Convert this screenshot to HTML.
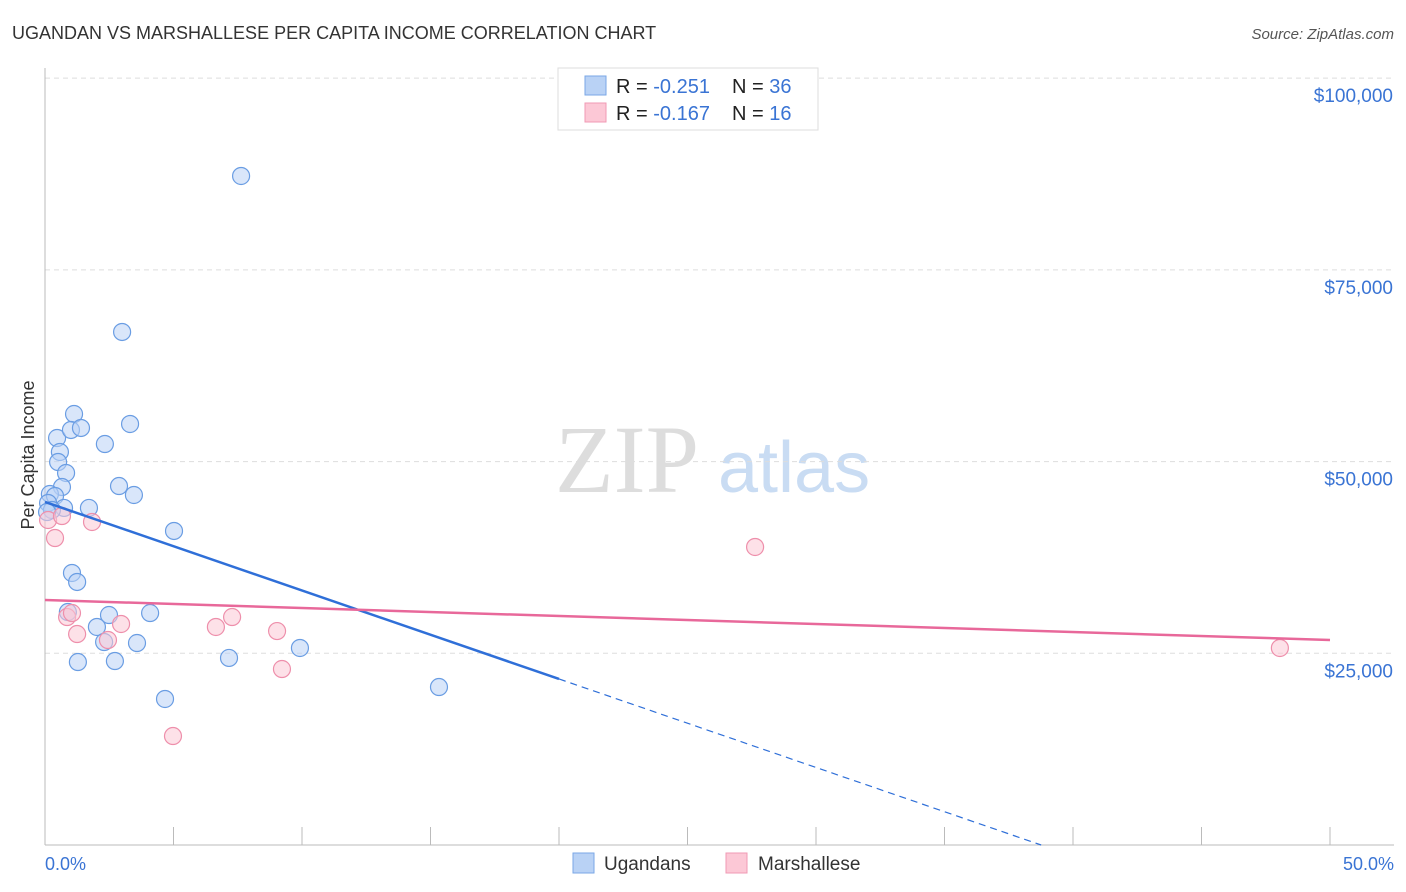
<!DOCTYPE html>
<html><head><meta charset="utf-8"><style>
body{margin:0;background:#fff;font-family:"Liberation Sans",sans-serif;}
svg{display:block}
</style></head><body>
<svg id="c" width="1406" height="892" xmlns="http://www.w3.org/2000/svg">
<text x="12" y="39" font-size="18" fill="#333">UGANDAN VS MARSHALLESE PER CAPITA INCOME CORRELATION CHART</text>
<text x="1394" y="39" font-size="15" fill="#555" font-style="italic" text-anchor="end">Source: ZipAtlas.com</text>
<text x="555" y="492" font-size="96" fill="#ddd" font-family="Liberation Serif, serif">ZIP</text>
<text x="718" y="492" font-size="72" fill="#c9dcf3">atlas</text>
<g id="grid"></g><g id="axes"></g><g id="marks"></g>
<text transform="translate(34,455) rotate(-90)" font-size="18" fill="#333" text-anchor="middle">Per Capita Income</text>
<text x="45" y="870" font-size="18" fill="#3a74d4">0.0%</text>
<text x="1394" y="870" font-size="18" fill="#3a74d4" text-anchor="end">50.0%</text>
<g>
<rect x="558" y="68" width="260" height="62" fill="#fff" stroke="#ddd"/>
<rect x="585" y="76" width="21" height="19" fill="#b9d2f5" stroke="#7aa7e6"/>
<rect x="585" y="103" width="21" height="19" fill="#fcc8d6" stroke="#f09ab4"/>
<text x="616" y="93" font-size="20" fill="#222">R = <tspan fill="#3a74d4">-0.251</tspan><tspan x="732">N = </tspan><tspan fill="#3a74d4">36</tspan></text>
<text x="616" y="120" font-size="20" fill="#222">R = <tspan fill="#3a74d4">-0.167</tspan><tspan x="732">N = </tspan><tspan fill="#3a74d4"> 16</tspan></text>
</g>
<g>
<rect x="573" y="853" width="21" height="20" fill="#b9d2f5" stroke="#7aa7e6"/>
<text x="604" y="870" font-size="19" fill="#333">Ugandans</text>
<rect x="726" y="853" width="21" height="20" fill="#fcc8d6" stroke="#f09ab4"/>
<text x="758" y="870" font-size="19" fill="#333">Marshallese</text>
</g>
</svg>
<script>
const yTicks=[25000,50000,75000,100000];
const yTickLabels=["$25,000","$50,000","$75,000","$100,000"];
const xTicks=[0,5,10,15,20,25,30,35,40,45,50];
const ugX=[7.63,3.0,1.13,0.47,1.01,1.40,3.31,2.33,0.58,0.51,0.82,0.66,2.88,3.46,0.19,0.39,0.12,0.74,1.71,0.27,0.08,5.02,1.05,1.25,0.89,2.49,4.09,2.02,2.30,3.58,7.16,9.92,1.28,2.72,4.67,15.33];
const ugY=[87240,66900,56200,53070,54120,54380,54900,52290,51250,49940,48510,46680,46810,45640,45770,45510,44600,43950,43950,43680,43420,40950,35470,34300,30380,29990,30250,28430,26470,26340,24390,25690,23860,23990,19040,20600];
const maX=[27.63,48.05,0.12,0.39,0.66,1.83,0.86,1.05,2.96,1.25,2.45,6.65,7.28,9.03,9.22,4.98];
const maY=[38860,25690,42380,40030,42900,42120,29730,30250,28820,27510,26730,28430,29730,27900,22950,14210];
const ugTrend=[44730,21650]; // values at 0% and 20%
const maTrend=[31950,26730]; // values at 0% and 50%
const NS="http://www.w3.org/2000/svg";
const X=v=>45+v*25.7, Y=v=>845-v/130.4;
function mk(p,t,a){const e=document.createElementNS(NS,t);for(const k in a)e.setAttribute(k,a[k]);p.appendChild(e);return e;}
const grid=document.getElementById('grid'),axes=document.getElementById('axes'),marks=document.getElementById('marks');
yTicks.forEach((v,i)=>{
const l=mk(grid,'line',{x1:45,x2:1394,y1:Y(v),y2:Y(v),stroke:'#ddd','stroke-dasharray':'5,4'});


const t=mk(grid,'text',{x:1393,y:Y(v)+24,'font-size':19,fill:'#3a74d4','text-anchor':'end'});
t.textContent=yTickLabels[i];


});
const ax=mk(axes,'line',{x1:45,x2:45,y1:68,y2:845,stroke:'#bbb'});


const bx=mk(axes,'line',{x1:45,x2:1394,y1:845,y2:845,stroke:'#bbb'});


xTicks.forEach(v=>{
const t=mk(axes,'line',{x1:X(v),x2:X(v),y1:827,y2:845,stroke:'#bbb'});


});
function dots(xs,ys,f,s,n){xs.forEach((x,i)=>{
const c=mk(marks,'circle',{cx:X(x),cy:Y(ys[i]),r:8.5,fill:f,'fill-opacity':0.55,stroke:s,'stroke-width':1.2});


});}
dots(ugX,ugY,'#b9d2f5','#6a9de3','ugandan-point');
dots(maX,maY,'#fcc8d6','#ee8fab','marshallese-point');
const slope=(ugTrend[1]-ugTrend[0])/20, x0=-ugTrend[0]/slope;
const l1=mk(marks,'line',{x1:X(0),y1:Y(ugTrend[0]),x2:X(20),y2:Y(ugTrend[1]),stroke:'#2f6fd8','stroke-width':2.5});


const l2=mk(marks,'line',{x1:X(20),y1:Y(ugTrend[1]),x2:X(x0),y2:Y(0),stroke:'#2f6fd8','stroke-width':1.2,'stroke-dasharray':'7,5'});


const l3=mk(marks,'line',{x1:X(0),y1:Y(maTrend[0]),x2:X(50),y2:Y(maTrend[1]),stroke:'#e8689a','stroke-width':2.5});


</script>
</body></html>
